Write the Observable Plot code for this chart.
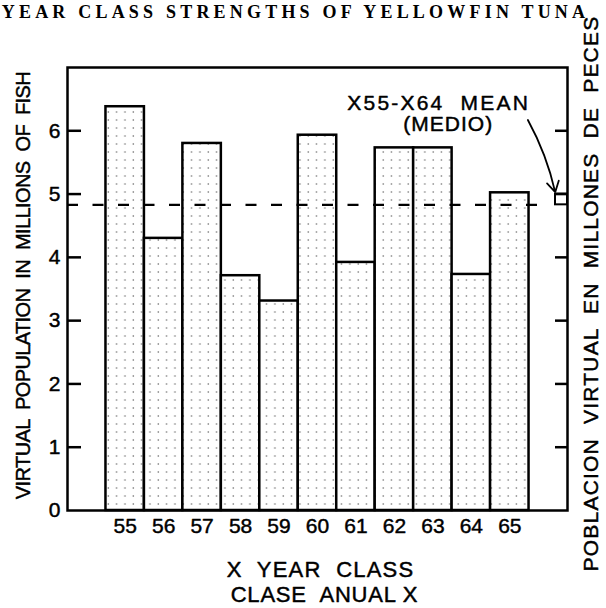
<!DOCTYPE html>
<html><head><meta charset="utf-8">
<script src="https://cdn.jsdelivr.net/npm/d3@7"></script>
<script src="https://cdn.jsdelivr.net/npm/@observablehq/plot@0.6"></script>
<style>body{margin:0;background:#fff;} svg{display:block}</style>
</head><body>
<script>
const years = [55,56,57,58,59,60,61,62,63,64,65];
const values = [6.38,4.30,5.80,3.71,3.31,5.93,3.92,5.73,5.73,3.73,5.02];
const meanValue = 4.83;
const yTicks = [0,1,2,3,4,5,6];
const yTickLabels = ["0","1","2","3","4","5","6"];
const xDomain = [54, 67];
const yDomain = [0, 7];
const title = "YEAR CLASS STRENGTHS OF YELLOWFIN TUNA";
const yLabelLeft = "VIRTUAL  POPULATION  IN  MILLIONS  OF  FISH";
const yLabelRight = "POBLACION  VIRTUAL  EN  MILLONES  DE  PECES";
const xLabel1 = "X  YEAR  CLASS";
const xLabel2 = "CLASE  ANUAL X";
const meanLabels = [{x: 63.65, y: 6.33, text: "X55-X64  MEAN"}, {x: 63.9, y: 5.99, text: "(MEDIO)"}];
const arrowPos = [{x1: 65.97, y1: 6.17, x2: 66.68, y2: 5.03}];
const meanMarker = [{y1: meanValue, y2: 5.0}];

const data = years.map((year, i) => ({year, value: values[i]}));
const font = "Liberation Sans, Arial, sans-serif";
const ink = {fill: "black", stroke: "black", strokeWidth: 0.45};

const svg = Plot.plot({
  width: 606, height: 608,
  marginLeft: 67, marginRight: 39, marginTop: 67, marginBottom: 98,
  x: {domain: xDomain, axis: null},
  y: {domain: yDomain, axis: null},
  style: {fontFamily: font, color: "black", background: "white"},
  marks: [
    Plot.rectY(data, {x1: "year", x2: d => d.year + 1, y: "value", fill: "url(#dots)", stroke: "black", strokeWidth: 2.5}),
    Plot.ruleY([meanValue], {stroke: "black", strokeWidth: 2.2, strokeDasharray: "11,14.5", insetRight: 26}),
    Plot.tickY(yTicks.filter(d => d > 0), {y: d => d, insetRight: 486, strokeWidth: 2.5}),
    Plot.tickY(yTicks.filter(d => d > 0), {y: d => d, insetLeft: 488, strokeWidth: 2.5}),
    Plot.rect(meanMarker, {y1: "y1", y2: "y2", insetLeft: 488, fill: "none", stroke: "black", strokeWidth: 2}),
    Plot.arrow(arrowPos, {x1: "x1", y1: "y1", x2: "x2", y2: "y2", bend: 8, strokeWidth: 1.8, headLength: 10}),
    Plot.frame({stroke: "black", strokeWidth: 2.5}),
    Plot.text(yTicks, {y: d => d, text: (d, i) => yTickLabels[i], frameAnchor: "left", dx: -7, textAnchor: "end", fontSize: 21, ...ink}),
    Plot.text(years, {x: d => d + 0.5, text: d => String(d), frameAnchor: "bottom", dy: 15.5, lineAnchor: "middle", textAnchor: "middle", fontSize: 21, ...ink}),
    Plot.text([xLabel1], {frameAnchor: "bottom", dx: 3, dy: 59, lineAnchor: "middle", textAnchor: "middle", fontSize: 22, ...ink}),
    Plot.text([xLabel2], {frameAnchor: "bottom", dx: 7, dy: 84, lineAnchor: "middle", textAnchor: "middle", fontSize: 22, ...ink}),
    Plot.text([yLabelLeft], {frameAnchor: "left", rotate: -90, dx: -44, dy: -3.5, lineAnchor: "middle", textAnchor: "middle", fontSize: 20, ...ink}),
    Plot.text([yLabelRight], {frameAnchor: "right", rotate: -90, dx: 24, dy: 4.5, lineAnchor: "middle", textAnchor: "middle", fontSize: 21, ...ink}),
    Plot.text(meanLabels, {x: "x", y: "y", text: "text", lineAnchor: "bottom", textAnchor: "middle", fontSize: 21, ...ink}),
    Plot.text([title], {frameAnchor: "top", dx: -22, dy: -50, lineAnchor: "bottom", textAnchor: "middle", fontSize: 18, fontWeight: "bold", fontFamily: "Liberation Serif, serif", fill: "black"})
  ]
});

// letter spacing per label (style only)
const spacing = new Map([
  [title, 4.2], [yLabelLeft, -0.6], [yLabelRight, 1.2], [xLabel1, 1.2], [xLabel2, 0.8],
  ["X55-X64  MEAN", 2.2], ["(MEDIO)", 1]
]);
d3.select(svg).selectAll("text").each(function() {
  const s = spacing.get(this.textContent);
  if (s != null) this.style.letterSpacing = s + "px";
});

const defs = d3.select(svg).insert("defs", ":first-child");
const pat = defs.append("pattern").attr("id", "dots").attr("patternUnits", "userSpaceOnUse")
  .attr("width", 8.33).attr("height", 8).attr("x", 104.3).attr("y", 100);
pat.append("rect").attr("width", 8.33).attr("height", 8).attr("fill", "white");
pat.append("circle").attr("cx", 4).attr("cy", 4).attr("r", 0.8).attr("fill", "#666");

document.body.appendChild(svg);
</script>
</body></html>
